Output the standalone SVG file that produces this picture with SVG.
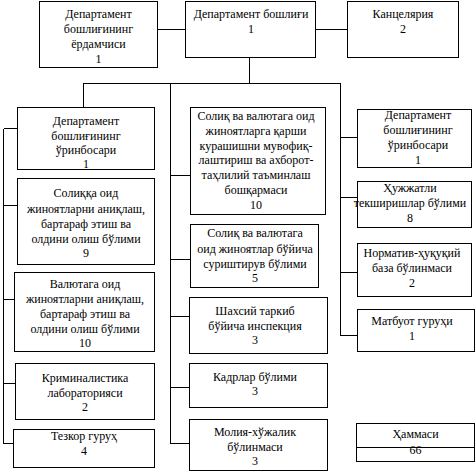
<svg xmlns="http://www.w3.org/2000/svg" width="476" height="472" viewBox="0 0 476 472">
<style>
rect{fill:#fff;stroke:#000;stroke-width:1}
line,path{stroke:#000;stroke-width:1;fill:none}
text{font-family:"Liberation Serif","Times New Roman",serif;font-size:12px;fill:#000;text-anchor:middle}
</style>
<rect x="0" y="0" width="476" height="472" style="stroke:none"/>
<g id="connectors" shape-rendering="crispEdges">
<line x1="158" y1="29.5" x2="185" y2="29.5"/>
<line x1="316" y1="29.5" x2="347" y2="29.5"/>
<line x1="249.5" y1="57" x2="249.5" y2="83.5"/>
<line x1="83" y1="83.5" x2="340.5" y2="83.5"/>
<line x1="83.5" y1="83" x2="83.5" y2="107"/>
<path d="M3.5 128.5V443.5H13M3.5 128.5H17M3.5 205.5H17M3.5 299.5H14M3.5 383.5H15"/>
<path d="M170.5 83V443.5H189M170.5 175.5H190M170.5 259.5H190M170.5 316.5H189M170.5 387.5H189"/>
<path d="M340.5 83V335.5H357M340.5 137.5H357M340.5 197.5H357M340.5 272.5H357"/>
</g>
<g id="n1"><rect x="39.5" y="1.5" width="118" height="66"/><text x="98.5" y="18">Департамент</text><text x="98.5" y="33">бошлиғининг</text><text x="98.5" y="48">ёрдамчиси</text><text x="98.5" y="63">1</text></g>
<g id="n2"><rect x="185.5" y="1.5" width="130" height="56"/><text x="251" y="18">Департамент бошлиғи</text><text x="251" y="33">1</text></g>
<g id="n3"><rect x="347.5" y="1.5" width="111" height="56"/><text x="403" y="18">Канцелярия</text><text x="403" y="33">2</text></g>
<g id="n4"><rect x="17.5" y="107.5" width="137" height="62"/><text x="86" y="125">Департамент</text><text x="86" y="139.5">бошлиғининг</text><text x="86" y="154">ўринбосари</text><text x="86" y="168">1</text></g>
<g id="n5"><rect x="17.5" y="178.5" width="137" height="86"/><text x="86" y="197">Солиққа оид</text><text x="86" y="212.5">жиноятларни аниқлаш,</text><text x="86" y="228">бартараф этиш ва</text><text x="86" y="243">олдини олиш бўлими</text><text x="86" y="257">9</text></g>
<g id="n6"><rect x="14.5" y="272.5" width="140" height="79"/><text x="85" y="288">Валютага оид</text><text x="85" y="303">жиноятларни аниқлаш,</text><text x="85" y="318">бартараф этиш ва</text><text x="85" y="333">олдини олиш бўлими</text><text x="85" y="347">10</text></g>
<g id="n7"><rect x="15.5" y="363.5" width="139" height="56"/><text x="85" y="382">Криминалистика</text><text x="85" y="396.5">лабораторияси</text><text x="85" y="411">2</text></g>
<g id="n8"><rect x="13.5" y="429.5" width="141" height="38"/><text x="84" y="440">Тезкор гуруҳ</text><text x="84" y="455">4</text></g>
<g id="n9"><rect x="190.5" y="107.5" width="135" height="107"/><text x="256" y="120">Солиқ ва валютага оид</text><text x="256" y="135">жиноятларга қарши</text><text x="256" y="149.5">курашишни мувофиқ-</text><text x="256" y="164">лаштириш ва ахборот-</text><text x="256" y="179">таҳлилий таъминлаш</text><text x="256" y="194">бошқармаси</text><text x="256" y="208.5">10</text></g>
<g id="n10"><rect x="190.5" y="224.5" width="128" height="63"/><text x="255" y="237">Солиқ ва валютага</text><text x="255" y="252.5">оид жиноятлар бўйича</text><text x="255" y="268">суриштирув бўлими</text><text x="255" y="282">5</text></g>
<g id="n11"><rect x="189.5" y="297.5" width="138" height="56"/><text x="255" y="315">Шахсий таркиб</text><text x="255" y="330">бўйича инспекция</text><text x="255" y="344">3</text></g>
<g id="n12"><rect x="189.5" y="363.5" width="138" height="44"/><text x="255" y="381">Кадрлар бўлими</text><text x="255" y="395">3</text></g>
<g id="n13"><rect x="189.5" y="419.5" width="138" height="51"/><text x="255" y="436">Молия-хўжалик</text><text x="255" y="451">бўлинмаси</text><text x="255" y="465">3</text></g>
<g id="n14"><rect x="357.5" y="109.5" width="114" height="58"/><text x="418" y="119">Департамент</text><text x="418" y="134">бошлиғининг</text><text x="418" y="149">ўринбосари</text><text x="418" y="164">1</text></g>
<g id="n15"><rect x="357.5" y="181.5" width="114" height="46"/><text x="410" y="192">Ҳужжатли</text><text x="410" y="207">текширишлар бўлими</text><text x="410" y="222">8</text></g>
<g id="n16"><rect x="357.5" y="243.5" width="114" height="53"/><text x="412" y="257">Норматив-ҳуқуқий</text><text x="412" y="272">база бўлинмаси</text><text x="412" y="287">2</text></g>
<g id="n17"><rect x="357.5" y="309.5" width="117" height="42"/><text x="412" y="325">Матбуот гуруҳи</text><text x="412" y="340">1</text></g>
<g id="n18"><rect x="356.5" y="423.5" width="118" height="38"/><line x1="356.5" y1="447.5" x2="474.5" y2="447.5"/><text x="415.5" y="438">Ҳаммаси</text><text x="415.5" y="454">66</text></g>
</svg>
